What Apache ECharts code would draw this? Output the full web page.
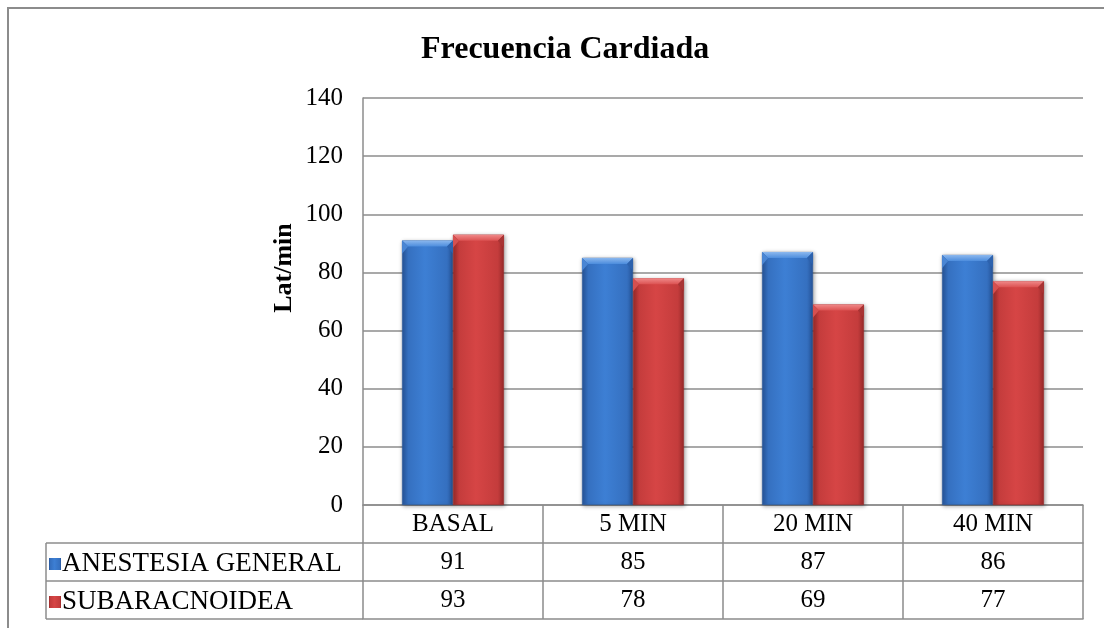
<!DOCTYPE html>
<html>
<head>
<meta charset="utf-8">
<script src="https://cdn.jsdelivr.net/npm/echarts@6/dist/echarts.min.js"></script>
<style>
  html, body { margin: 0; padding: 0; background: #fff; }
  #chart { width: 1104px; height: 628px; }
</style>
</head>
<body>
<div id="chart"></div>
<script>
// Heart-rate readings per time point for each anaesthesia group
const categories = ['BASAL', '5 MIN', '20 MIN', '40 MIN'];
const seriesNames = ['ANESTESIA GENERAL', 'SUBARACNOIDEA'];
const anestesiaGeneral = [91, 85, 87, 86];
const subaracnoidea = [93, 78, 69, 77];
const yTicks = { min: 0, max: 140, interval: 20 };

// layout of the plot and its data table
const GRID = { left: 363, right: 21, top: 98, bottom: 123 };
const ROW = 38;
const LINE = '#8c8c8c';
const FONT = 'Liberation Serif, "Times New Roman", serif';
const FS = 25;
const BAR_RATIO = 0.283;

const plotBottom = 628 - GRID.bottom;
const tableLeft = 46;

function barGradient(edge, mid, light) {
  return new echarts.graphic.LinearGradient(0, 0, 1, 0, [
    { offset: 0, color: edge },
    { offset: 0.12, color: mid },
    { offset: 0.45, color: light },
    { offset: 0.88, color: mid },
    { offset: 1, color: edge }
  ]);
}

const blueFill = barGradient('#27559a', '#3570c0', '#3d7fd4');
const redFill = barGradient('#982a2a', '#c43c3c', '#d64545');

const tableAxis = (data, offset, showTicks, showLabels) => ({
  type: 'category',
  data: data,
  position: 'bottom',
  offset: offset,
  gridIndex: 0,
  boundaryGap: true,
  axisLine: { show: true, lineStyle: { color: LINE, width: 1.5 } },
  axisTick: { show: showTicks, alignWithLabel: false, length: ROW, lineStyle: { color: LINE, width: 1.5 } },
  axisLabel: { show: showLabels, margin: 7, color: '#000', fontFamily: FONT, fontSize: FS, interval: 0 },
  splitLine: { show: false }
});

// bevelled cap drawn on top of each bar (side: -1 left bar of the pair, 0 right bar)
function bevelSeries(values, side, topColor, sideColor) {
  return {
    type: 'custom',
    xAxisIndex: 0,
    silent: true,
    z: 3,
    data: values.map((v, i) => [i, v]),
    renderItem: function (params, api) {
      const top = api.coord([api.value(0), api.value(1)]);
      const band = api.size([1, 0])[0];
      const w = band * BAR_RATIO;
      const x0 = top[0] + side * w;
      const x1 = x0 + w;
      const y = top[1];
      const b = 6;
      return {
        type: 'group',
        children: [
          {
            type: 'polygon',
            shape: { points: [[x0, y], [x1, y], [x1 - b, y + b], [x0 + b, y + b]] },
            style: {
              fill: new echarts.graphic.LinearGradient(0, 0, 0, 1, [
                { offset: 0, color: topColor[0] },
                { offset: 1, color: topColor[1] }
              ])
            }
          },
          {
            type: 'polygon',
            shape: { points: [[x0, y], [x0 + b, y + b], [x0, y + b * 2.2]] },
            style: { fill: sideColor[0] }
          },
          {
            type: 'polygon',
            shape: { points: [[x1, y], [x1 - b, y + b], [x1, y + b * 2.2]] },
            style: { fill: sideColor[1] }
          }
        ]
      };
    }
  };
}

const chart = echarts.init(document.getElementById('chart'), null, { renderer: 'canvas' });

const tableLines = [];
for (let r = 1; r <= 3; r++) {
  tableLines.push({
    type: 'line',
    shape: { x1: tableLeft, y1: plotBottom + ROW * r, x2: GRID.left, y2: plotBottom + ROW * r },
    style: { stroke: LINE, lineWidth: 1.5 }
  });
}
tableLines.push({
  type: 'line',
  shape: { x1: tableLeft, y1: plotBottom + ROW, x2: tableLeft, y2: plotBottom + ROW * 3 },
  style: { stroke: LINE, lineWidth: 1.5 }
});

chart.setOption({
  backgroundColor: '#fff',
  animation: false,
  title: {
    text: 'Frecuencia Cardiada',
    left: 416,
    top: 29,
    textStyle: { fontFamily: FONT, fontSize: 32, fontWeight: 'bold', color: '#000' }
  },
  legend: {
    orient: 'vertical',
    left: tableLeft + 3,
    top: plotBottom + ROW + 7,
    padding: 0,
    itemWidth: 12,
    itemHeight: 12,
    itemGap: 10,
    itemStyle: { borderWidth: 0 },
    textStyle: { fontFamily: FONT, fontSize: 27, color: '#000', lineHeight: 28, padding: [0, 0, 0, -4] },
    icon: 'rect',
    data: seriesNames
  },
  grid: { left: GRID.left, right: GRID.right, top: GRID.top, bottom: GRID.bottom, containLabel: false },
  xAxis: [
    tableAxis(categories, 0, true, true),
    tableAxis(anestesiaGeneral.map(String), ROW, true, true),
    tableAxis(subaracnoidea.map(String), ROW * 2, true, true),
    tableAxis(categories, ROW * 3, false, false)
  ],
  yAxis: {
    type: 'value',
    min: yTicks.min,
    max: yTicks.max,
    interval: yTicks.interval,
    axisLine: { show: true, lineStyle: { color: LINE, width: 1.5 } },
    axisTick: { show: false },
    axisLabel: { margin: 20, color: '#000', fontFamily: FONT, fontSize: FS },
    splitLine: { show: true, lineStyle: { color: LINE, width: 1.5 } }
  },
  series: [
    {
      name: seriesNames[0],
      type: 'bar',
      xAxisIndex: 0,
      data: anestesiaGeneral,
      barWidth: (BAR_RATIO * 100) + '%',
      barGap: '0%',
      itemStyle: {
        color: blueFill,
        borderColor: '#2a5a9c',
        borderWidth: 0.6,
        shadowColor: 'rgba(0,0,0,0.35)',
        shadowBlur: 4,
        shadowOffsetX: 1,
        shadowOffsetY: 1
      }
    },
    {
      name: seriesNames[1],
      type: 'bar',
      xAxisIndex: 0,
      data: subaracnoidea,
      barWidth: (BAR_RATIO * 100) + '%',
      barGap: '0%',
      itemStyle: {
        color: redFill,
        borderColor: '#9a2c2c',
        borderWidth: 0.6,
        shadowColor: 'rgba(0,0,0,0.35)',
        shadowBlur: 4,
        shadowOffsetX: 1,
        shadowOffsetY: 1
      }
    },
    bevelSeries(anestesiaGeneral, -1, ['#8cb8ee', '#4d8ddd'], ['#4a86d4', '#2d62ad']),
    bevelSeries(subaracnoidea, 0, ['#f08a8a', '#dc5252'], ['#d65050', '#a83434'])
  ],
  graphic: [
    {
      type: 'rect',
      silent: true,
      shape: { x: 8, y: 8, width: 1200, height: 800 },
      style: { fill: 'none', stroke: LINE, lineWidth: 2 }
    },
    {
      type: 'text',
      silent: true,
      x: 284,
      y: 268,
      rotation: Math.PI / 2,
      style: {
        text: 'Lat/min',
        fontFamily: FONT,
        fontSize: 26,
        fontWeight: 'bold',
        fill: '#000',
        align: 'center',
        verticalAlign: 'middle'
      }
    }
  ].concat(tableLines)
});
</script>
</body>
</html>
